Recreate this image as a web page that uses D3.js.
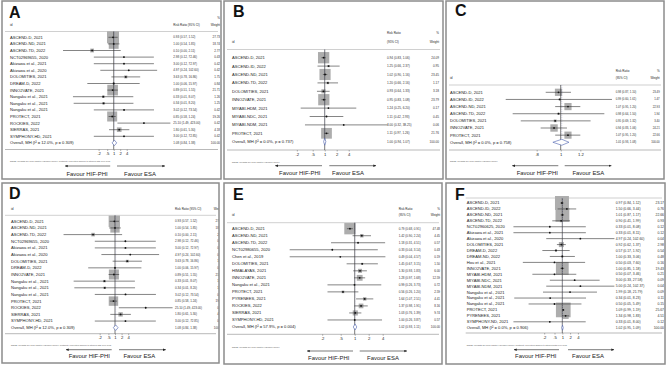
<!DOCTYPE html>
<html>
<head>
<meta charset="utf-8">
<script src="https://cdn.jsdelivr.net/npm/d3@7"></script>
<style>
body { margin: 0; background: #fff; }
svg { display: block; font-family: "Liberation Sans", Arial, sans-serif; }
</style>
</head>
<body>
<div id="chart"></div>
<script>
// ---- data ----
// panels A and D (same studies)
var studyA = ["ASCEND-D, 2021", "ASCEND-ND, 2021", "ASCEND-TD, 2022", "NCT02969655, 2020", "Akizawa et al., 2021",
  "Akizawa et al., 2020", "DOLOMITIES, 2021", "DREAM-D, 2022", "INNO2VATE, 2021", "Nangaku et al., 2021",
  "Nangaku et al., 2021", "Nangaku et al., 2021", "PROTECT, 2021", "ROCKIES, 2022", "SIERRAS, 2021", "SYMPHONY-HD, 2021"];
var rrA = [0.93, 1.00, 0.10, 2.98, 3.00, 4.97, 3.63, 1.00, 0.89, 0.33, 0.34, 3.02, 0.85, 25.10, 1.80, 3.00];
var loA = [0.57, 0.54, 0.0045, 0.12, 0.12, 0.24, 0.78, 0.06, 0.51, 0.013, 0.014, 0.12, 0.58, 1.49, 0.61, 0.12];
var hiA = [1.52, 1.85, 2.11, 72.46, 72.97, 102.60, 16.86, 15.97, 1.55, 8.07, 8.20, 73.54, 1.24, 423.00, 5.30, 72.85];
var wtA = [27.73, 18.74, 2.77, 0.43, 0.42, 0.42, 1.75, 0.84, 21.71, 1.26, 1.25, 0.42, 19.26, 0.42, 4.18, 0.42];
var overallA = [1.08, 0.84, 1.38];

var studyB = ["ASCEND-D, 2021", "ASCEND-ID, 2022", "ASCEND-ND, 2021", "ASCEND-TD, 2022", "DOLOMITIES, 2021",
  "INNO2VATE, 2021", "MIYABI-HDM, 2021", "MIYABI-NDC, 2021", "MIYABI-NDM, 2021", "PROTECT, 2021"];
var rrB = [0.94, 1.25, 1.02, 1.20, 0.93, 0.95, 1.24, 1.11, 3.00, 1.11];
var loB = [0.83, 0.66, 0.90, 0.66, 0.64, 0.83, 0.25, 0.42, 0.32, 0.97];
var hiB = [1.06, 2.37, 1.16, 2.16, 1.33, 1.08, 6.20, 2.93, 38.25, 1.26];
var wtB = [24.09, 0.95, 23.45, 1.17, 3.18, 23.79, 0.17, 0.45, 0.06, 21.76];
var overallB = [1.00, 0.94, 1.07];

var studyC = ["ASCEND-D, 2021", "ASCEND-ID, 2022", "ASCEND-ND, 2021", "ASCEND-TD, 2022", "DOLOMITIES, 2021",
  "INNO2VATE, 2021", "PROTECT, 2021"];
var rrC = [0.98, 0.99, 1.07, 0.98, 0.95, 0.94, 1.07];
var loC = [0.87, 0.60, 0.95, 0.64, 0.69, 0.83, 0.95];
var hiC = [1.10, 1.61, 1.20, 1.50, 1.32, 1.06, 1.20];
var wtC = [23.49, 1.47, 22.93, 1.94, 3.40, 24.21, 22.66];
var overallC = [1.01, 0.93, 1.08];

var studyE = ["ASCEND-D, 2021", "ASCEND-ND, 2021", "ASCEND-TD, 2022", "NCT02980655, 2020", "Chen et al., 2019",
  "DOLOMITIES, 2021", "HIMALAYAS, 2021", "INNO2VATE, 2021", "Nangaku et al., 2021", "PROTECT, 2021",
  "PYRENEES, 2021", "ROCKIES, 2022", "SIERRAS, 2021", "SYMPHONY-HD, 2021"];
var rrE = [0.79, 1.42, 1.18, 0.33, 0.49, 1.45, 1.30, 1.28, 0.99, 0.56, 1.64, 1.37, 1.03, 1.00];
var loE = [0.68, 0.90, 0.31, 0.04, 0.04, 0.67, 0.93, 0.97, 0.26, 0.26, 1.07, 0.98, 0.76, 0.26];
var hiE = [0.91, 2.24, 4.51, 3.14, 4.57, 3.15, 1.83, 1.68, 3.73, 1.20, 2.51, 1.91, 1.39, 3.87];
var wtE = [47.48, 4.45, 0.57, 0.43, 0.19, 1.50, 6.00, 12.59, 0.72, 2.59, 4.41, 8.16, 9.74, 0.57];
var overallE = [1.02, 0.93, 1.11];

var studyF = ["ASCEND-D, 2021", "ASCEND-ID, 2022", "ASCEND-ND, 2021", "ASCEND-TD, 2022", "NCT02960625, 2020",
  "Akizawa et al., 2021", "Akizawa et al., 2020", "DOLOMITIES, 2021", "DREAM-D, 2022", "DREAM-ND, 2022",
  "Hou et al., 2021", "INNO2VATE, 2021", "MIYABI-HDM, 2021", "MIYABI-NDC, 2021", "MIYABI-NDM, 2021",
  "Nangaku et al., 2021", "Nangaku et al., 2021", "Nangaku et al., 2021", "PROTECT, 2021", "PYRENEES, 2021",
  "SYMPHONY-ND, 2021"];
var rrF = [0.97, 1.50, 1.01, 0.90, 0.33, 0.33, 4.97, 0.92, 0.57, 1.00, 0.50, 1.00, 0.50, 3.00, 5.00, 1.99, 0.34, 0.50, 1.09, 1.34, 0.33];
var loF = [0.84, 0.66, 0.87, 0.41, 0.013, 0.013, 0.24, 0.62, 0.17, 0.33, 0.03, 0.85, 0.07, 0.33, 0.24, 0.18, 0.014, 0.05, 0.99, 0.98, 0.013];
var hiF = [1.12, 3.44, 1.17, 1.99, 8.08, 8.11, 102.60, 1.37, 1.92, 3.06, 7.60, 1.18, 3.46, 27.58, 102.37, 21.79, 8.23, 5.49, 1.19, 1.83, 8.00];
var wtF = [23.17, 0.76, 22.66, 0.93, 0.12, 0.12, 0.04, 2.98, 0.54, 0.48, 0.16, 19.43, 0.21, 0.09, 0.04, 0.09, 0.11, 0.15, 25.67, 4.51, 0.12];
var overallF = [1.02, 0.95, 1.09];

var ticksWide = [0.2, 0.5, 1, 2, 4];
var ticksNarrow = [0.8, 1, 1.2];

var noteCC = "NOTE: Weights are from Mantel-Haenszel model; continuity correction applied to studies with zero cells";
var noteMH = "NOTE: Weights are from Mantel-Haenszel model";

// ---- panel layout ----
var panels = [
  {id: "A", box: [2, 1, 221, 179], letter: [9, 18], labelX: 10, hdr: "one", hdrY: 24.5, pctY: 18,
    rrX: 173.3, wX: 220, lineTop: 31.5, row0: 37.3, step: 6.6, one: 113.7, perLog2: 6.5, base: 149.5,
    ticks: ticksWide, noteY: 161, arrowY: 166, arrowL: [65, 110.2], arrowR: [117, 165], favY: 173.5, favX: [87, 140],
    sq: 2.28, numFs: 3.0,
    study: studyA, rr: rrA, lo: loA, hi: hiA, wt: wtA, overall: overallA,
    overallLab: "Overall, MH (I\u00B2 = 12.0%, p = 0.309)", note: noteCC},
  {id: "B", box: [224, 1, 443, 179], letter: [233, 17], labelX: 232, hdr: "two", hdrY: 42, pctY: 33,
    rrX: 387, wX: 439, lineTop: 49.5, row0: 57.7, step: 8.4, one: 324.7, perLog2: 12, base: 150,
    ticks: ticksWide, noteY: 162.3, arrowY: 165.7, arrowL: [275.3, 322], arrowR: [329.3, 376], favY: 172.7, favX: [299.7, 348],
    sq: 2.3, numFs: 3.1,
    study: studyB, rr: rrB, lo: loB, hi: hiB, wt: wtB, overall: overallB,
    overallLab: "Overall, MH (I\u00B2 = 0.0%, p = 0.737)", note: noteMH},
  {id: "C", box: [446, 1, 664, 179], letter: [455, 16], labelX: 450, hdr: "two", hdrY: 78.3, pctY: 71,
    rrX: 615.7, wX: 659.7, lineTop: 85, row0: 92.3, step: 7.14, one: 560.7, perLog2: 74.6, base: 150,
    ticks: ticksNarrow, noteY: 161, arrowY: 165.7, arrowL: [512.3, 558.3], arrowR: [564.7, 611.3], favY: 172.7, favX: [537.3, 588.3],
    sq: 1.5, numFs: 2.8,
    study: studyC, rr: rrC, lo: loC, hi: hiC, wt: wtC, overall: overallC,
    overallLab: "Overall, MH (I\u00B2 = 0.0%, p = 0.758)", note: noteMH},
  {id: "D", box: [2, 183, 219, 363], letter: [9, 199], labelX: 11, hdr: "one", hdrY: 208.7, pctY: 201.3,
    rrX: 175, wX: 223, lineTop: 215.3, row0: 221.3, step: 6.65, one: 115, perLog2: 6.6, base: 333.7,
    ticks: ticksWide, noteY: 345.3, arrowY: 349.7, arrowL: [66, 111.7], arrowR: [119, 165.7], favY: 356, favX: [89.3, 139.3],
    sq: 2.15, numFs: 3.0,
    study: studyA, rr: rrA, lo: loA, hi: hiA, wt: wtA, overall: overallA,
    overallLab: "Overall, MH (I\u00B2 = 12.0%, p = 0.309)", note: noteCC},
  {id: "E", box: [224, 183, 442, 364], letter: [233, 200], labelX: 232, hdr: "two", hdrY: 215.3, pctY: 208.7,
    rrX: 398.7, wX: 440, lineTop: 222.7, row0: 228.7, step: 7.02, one: 354.7, perLog2: 14, base: 334.3,
    ticks: ticksWide, noteY: 347, arrowY: 351, arrowL: [307, 353], arrowR: [359.7, 407], favY: 357.7, favX: [328.7, 383],
    sq: 1.64, numFs: 3.0,
    study: studyE, rr: rrE, lo: loE, hi: hiE, wt: wtE, overall: overallE,
    overallLab: "Overall, MH (I\u00B2 = 57.9%, p = 0.004)", note: noteMH},
  {id: "F", box: [446, 183, 665, 364], letter: [455, 200], labelX: 466.7, hdr: "none", lineLeft: 465.7,
    rrX: 615.7, wX: 664, lineTop: 198, row0: 203, step: 5.94, one: 562.3, perLog2: 7.8, base: 333,
    ticks: ticksWide, noteY: 345.3, arrowY: 349.7, arrowL: [514, 559], arrowR: [568, 614], favY: 356, favX: [535.7, 588],
    sq: 2.9, numFs: 3.4,
    study: studyF, rr: rrF, lo: loF, hi: hiF, wt: wtF, overall: overallF,
    overallLab: "Overall, MH (I\u00B2 = 0.0%, p = 0.906)", note: noteCC}
];

var svg = d3.select("#chart").append("svg")
  .attr("width", 669)
  .attr("height", 365);

var defs = svg.append("defs");
defs.append("marker")
  .attr("id", "arrowhead")
  .attr("viewBox", "0 0 10 10")
  .attr("refX", 9).attr("refY", 5)
  .attr("markerUnits", "userSpaceOnUse")
  .attr("markerWidth", 3).attr("markerHeight", 3)
  .attr("orient", "auto-start-reverse")
  .append("path")
  .attr("d", "M0,1L10,5L0,9z")
  .attr("fill", "#222");

function ciText(r, l, h) {
  return r.toFixed(2) + " (" + l.toFixed(2) + ", " + h.toFixed(2) + ")";
}
function tickFmt(d) {
  return d < 1 ? String(d).replace(/^0/, "") : String(d);
}

panels.forEach(function(p) {
  var b = p.box;
  defs.append("clipPath").attr("id", "clip" + p.id)
    .append("rect")
    .attr("x", b[0]).attr("y", b[1])
    .attr("width", b[2] - b[0]).attr("height", b[3] - b[1]);

  var g = svg.append("g").attr("clip-path", "url(#clip" + p.id + ")");

  // log scale: p.perLog2 pixels for each doubling, 1 sits at p.one
  var x = d3.scaleLog().domain([1, 2]).range([p.one, p.one + p.perLog2]);
  var n = p.study.length;
  var y = d3.scaleLinear().domain([0, n]).range([p.row0, p.row0 + n * p.step]);

  var rows = p.study.map(function(s, i) {
    return {label: s, rr: p.rr[i], lo: p.lo[i], hi: p.hi[i], wt: p.wt[i], i: i};
  });

  var lineLeft = p.lineLeft || b[0] + 3;

  // header
  if (p.hdr != "none") {
    g.append("text").attr("x", p.labelX).attr("y", p.hdrY).attr("dy", "0.35em")
      .attr("font-size", 3.1).attr("fill", "#222").text("id");
    if (p.hdr == "one") {
      g.append("text").attr("x", p.rrX).attr("y", p.hdrY).attr("dy", "0.35em")
        .attr("font-size", 3.0).attr("fill", "#222").text("Risk Ratio (95% CI)");
    } else {
      g.append("text").attr("x", p.rrX).attr("y", p.pctY).attr("dy", "0.35em")
        .attr("font-size", 3.0).attr("fill", "#222").text("Risk Ratio");
      g.append("text").attr("x", p.rrX).attr("y", p.hdrY).attr("dy", "0.35em")
        .attr("font-size", 3.0).attr("fill", "#222").text("(95% CI)");
    }
    g.append("text").attr("x", p.wX).attr("y", p.pctY).attr("dy", "0.35em")
      .attr("text-anchor", "end").attr("font-size", 3.0).attr("fill", "#222").text("%");
    g.append("text").attr("x", p.wX).attr("y", p.hdrY).attr("dy", "0.35em")
      .attr("text-anchor", "end").attr("font-size", 3.0).attr("fill", "#222").text("Weight");
  }

  // header and bottom rules
  g.append("line")
    .attr("x1", lineLeft).attr("x2", b[2] - 3)
    .attr("y1", p.lineTop).attr("y2", p.lineTop)
    .attr("stroke", "#b0b0b0").attr("stroke-width", 0.6);
  g.append("line")
    .attr("x1", lineLeft).attr("x2", b[2] - 3)
    .attr("y1", p.base).attr("y2", p.base)
    .attr("stroke", "#8a8a8a").attr("stroke-width", 0.6);

  // weight squares
  g.selectAll("rect.sq")
    .data(rows)
    .enter()
    .append("rect")
    .attr("class", "sq")
    .attr("x", function(d) { return x(d.rr) - p.sq * Math.sqrt(d.wt) / 2; })
    .attr("y", function(d) { return y(d.i) - p.sq * Math.sqrt(d.wt) / 2; })
    .attr("width", function(d) { return p.sq * Math.sqrt(d.wt); })
    .attr("height", function(d) { return p.sq * Math.sqrt(d.wt); })
    .attr("fill", "#adadad");

  // line of no effect
  g.append("line")
    .attr("x1", x(1)).attr("x2", x(1))
    .attr("y1", p.lineTop).attr("y2", p.base)
    .attr("stroke", "#222").attr("stroke-width", 0.6);

  // overall estimate, dashed
  g.append("line")
    .attr("x1", x(p.overall[0])).attr("x2", x(p.overall[0]))
    .attr("y1", p.lineTop).attr("y2", y(n) - p.step * 0.4)
    .attr("stroke", "#9a9cc8").attr("stroke-width", 0.4)
    .attr("stroke-dasharray", "1,1");

  // CI lines
  g.selectAll("line.ci")
    .data(rows)
    .enter()
    .append("line")
    .attr("class", "ci")
    .attr("x1", function(d) { return x(d.lo); })
    .attr("x2", function(d) { return x(d.hi); })
    .attr("y1", function(d) { return y(d.i); })
    .attr("y2", function(d) { return y(d.i); })
    .attr("stroke", "#333").attr("stroke-width", 0.6);

  // point estimates
  g.selectAll("circle.pt")
    .data(rows)
    .enter()
    .append("circle")
    .attr("class", "pt")
    .attr("cx", function(d) { return x(d.rr); })
    .attr("cy", function(d) { return y(d.i); })
    .attr("r", 0.9)
    .attr("fill", "#111");

  // overall diamond
  var yo = y(n), h = p.step * 0.42;
  var ov = p.overall;
  g.append("path")
    .attr("d", "M" + x(ov[1]) + "," + yo + "L" + x(ov[0]) + "," + (yo - h) +
      "L" + x(ov[2]) + "," + yo + "L" + x(ov[0]) + "," + (yo + h) + "Z")
    .attr("fill", "#fff").attr("stroke", "#4a5fae").attr("stroke-width", 0.6);

  // study labels and numbers
  g.selectAll("text.lab")
    .data(rows)
    .enter()
    .append("text")
    .attr("class", "lab")
    .attr("x", p.labelX)
    .attr("y", function(d) { return y(d.i); })
    .attr("dy", "0.35em")
    .attr("font-size", 4.1).attr("fill", "#222")
    .text(function(d) { return d.label; });
  g.selectAll("text.ci")
    .data(rows)
    .enter()
    .append("text")
    .attr("class", "ci")
    .attr("x", p.rrX)
    .attr("y", function(d) { return y(d.i); })
    .attr("dy", "0.35em")
    .attr("font-size", p.numFs).attr("fill", "#333")
    .text(function(d) { return ciText(d.rr, d.lo, d.hi); });
  g.selectAll("text.wt")
    .data(rows)
    .enter()
    .append("text")
    .attr("class", "wt")
    .attr("x", p.wX)
    .attr("y", function(d) { return y(d.i); })
    .attr("dy", "0.35em")
    .attr("text-anchor", "end")
    .attr("font-size", p.numFs).attr("fill", "#333")
    .text(function(d) { return d.wt.toFixed(2); });

  g.append("text").attr("x", p.labelX).attr("y", yo).attr("dy", "0.35em")
    .attr("font-size", 4.1).attr("fill", "#222").text(p.overallLab);
  g.append("text").attr("x", p.rrX).attr("y", yo).attr("dy", "0.35em")
    .attr("font-size", p.numFs).attr("fill", "#333").text(ciText(ov[0], ov[1], ov[2]));
  g.append("text").attr("x", p.wX).attr("y", yo).attr("dy", "0.35em")
    .attr("text-anchor", "end").attr("font-size", p.numFs).attr("fill", "#333").text((100).toFixed(2));

  // axis
  var axg = g.append("g")
    .attr("transform", "translate(0," + p.base + ")")
    .call(d3.axisBottom(x).tickValues(p.ticks).tickFormat(tickFmt).tickSize(1.5).tickPadding(1.2));
  axg.select(".domain").remove();
  axg.attr("font-family", null).attr("font-size", 4.2);
  axg.selectAll("line").attr("stroke", "#444").attr("stroke-width", 0.4);
  axg.selectAll("text").attr("fill", "#222");

  // note
  g.append("text").attr("x", p.labelX).attr("y", p.noteY).attr("dy", "0.35em")
    .attr("font-size", 2.2).attr("fill", "#555").text(p.note);

  // favour arrows
  g.append("line")
    .attr("x1", p.arrowL[1]).attr("x2", p.arrowL[0])
    .attr("y1", p.arrowY).attr("y2", p.arrowY)
    .attr("stroke", "#222").attr("stroke-width", 0.6)
    .attr("marker-end", "url(#arrowhead)");
  g.append("line")
    .attr("x1", p.arrowR[0]).attr("x2", p.arrowR[1])
    .attr("y1", p.arrowY).attr("y2", p.arrowY)
    .attr("stroke", "#222").attr("stroke-width", 0.6)
    .attr("marker-end", "url(#arrowhead)");
  g.append("text").attr("x", p.favX[0]).attr("y", p.favY).attr("dy", "0.35em")
    .attr("text-anchor", "middle").attr("font-size", 5.9).attr("fill", "#1a1a1a").text("Favour HIF-PHI");
  g.append("text").attr("x", p.favX[1]).attr("y", p.favY).attr("dy", "0.35em")
    .attr("text-anchor", "middle").attr("font-size", 5.9).attr("fill", "#1a1a1a").text("Favour ESA");

  // panel letter
  svg.append("text").attr("x", p.letter[0]).attr("y", p.letter[1])
    .attr("font-size", 16).attr("font-weight", "bold").attr("fill", "#111").text(p.id);

  // frame
  svg.append("rect")
    .attr("x", b[0]).attr("y", b[1])
    .attr("width", b[2] - b[0]).attr("height", b[3] - b[1])
    .attr("fill", "none").attr("stroke", "#8c8c8c").attr("stroke-width", 1.5);
});
</script>
</body>
</html>
